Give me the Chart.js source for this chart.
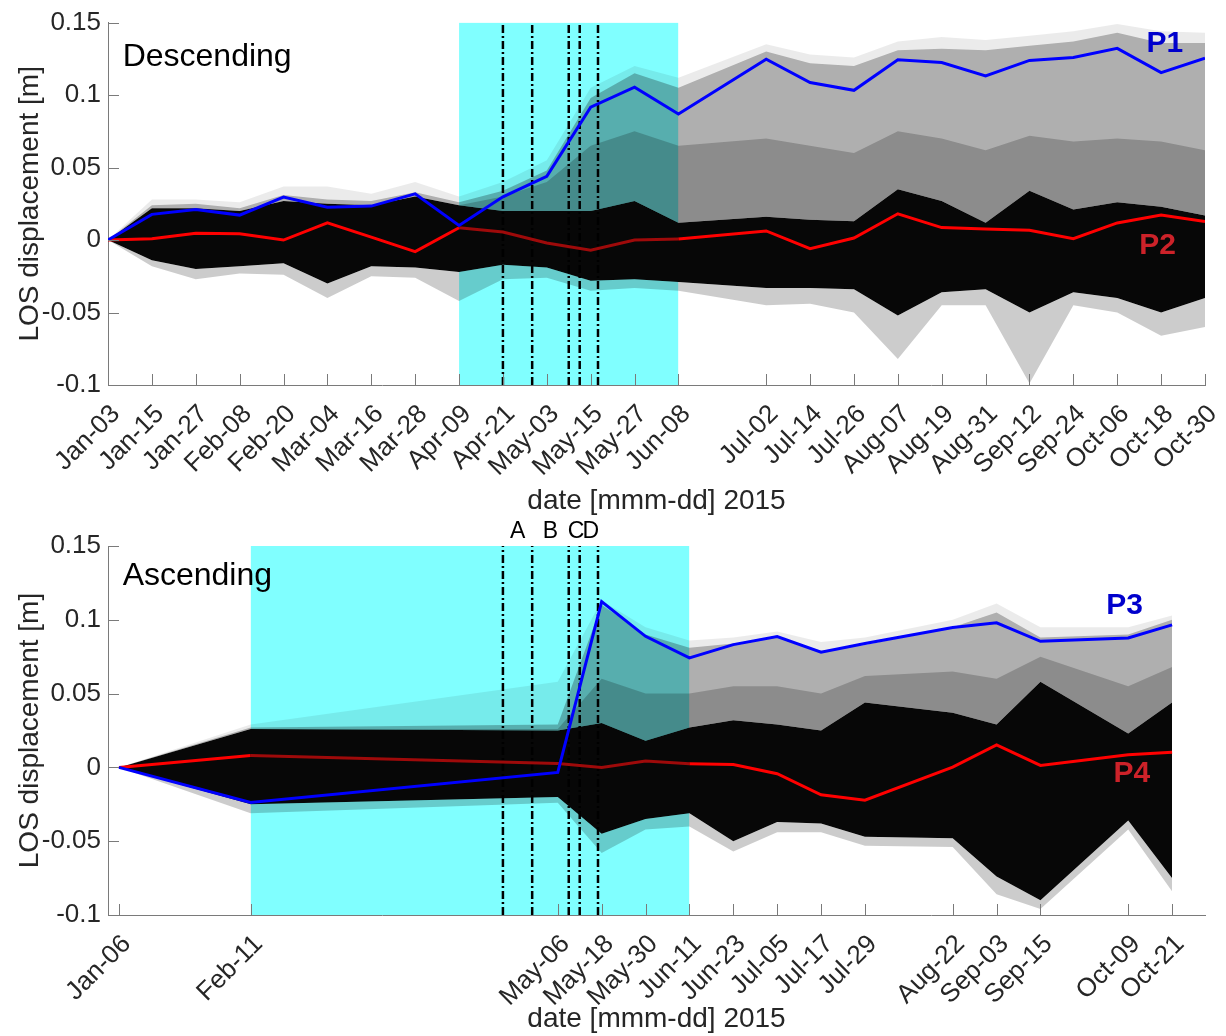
<!DOCTYPE html>
<html>
<head>
<meta charset="utf-8">
<script src="https://cdn.jsdelivr.net/npm/chart.js@4.4.1/dist/chart.umd.min.js"></script>
<style>
    html, body { margin: 0; padding: 0; background: #fff; }
    body { width: 1226px; height: 1036px; position: relative; overflow: hidden; }
    canvas { position: absolute; left: 0; }
    #desc { top: 0; }
    #asc { top: 518px; }
</style>
</head>
<body>
<canvas id="desc" width="1226" height="518"></canvas>
<canvas id="asc" width="1226" height="518"></canvas>
<script>
// --- DATA: descending track ---
const descDates = ['Jan-03','Jan-15','Jan-27','Feb-08','Feb-20','Mar-04','Mar-16','Mar-28','Apr-09','Apr-21','May-03','May-15','May-27',
    'Jun-08','Jul-02','Jul-14','Jul-26','Aug-07','Aug-19','Aug-31','Sep-12','Sep-24','Oct-06','Oct-18','Oct-30'];
const descTickLabels = descDates;
const p1 = [0, 0.0177, 0.0211, 0.0172, 0.0296, 0.0227, 0.0234, 0.0319, 0.0101, 0.0298, 0.044, 0.0917, 0.1055,
    0.087, 0.1248, 0.1087, 0.1033, 0.1243, 0.1225, 0.1132, 0.1239, 0.1259, 0.1322, 0.1155, 0.1254];
const p2 = [0, 0.0009, 0.0046, 0.0044, 0.0, 0.0119, 0.002, -0.008, 0.0085, 0.0055, -0.002, -0.0071, 0.0,
    0.0007, 0.0063, -0.0059, 0.0014, 0.0181, 0.0086, 0.0077, 0.0068, 0.0009, 0.0118, 0.0172, 0.0127];
// envelope of the pixel time series
const descOuterTop = [0, 0.028, 0.028, 0.026, 0.037, 0.037, 0.032, 0.04, 0.03, 0.04, 0.055, 0.105, 0.12,
    0.112, 0.135, 0.128, 0.126, 0.137, 0.14, 0.138, 0.141, 0.144, 0.149, 0.144, 0.143];
const descGrayTop = [0, 0.024, 0.025, 0.022, 0.031, 0.028, 0.027, 0.033, 0.026, 0.034, 0.048, 0.098, 0.115,
    0.105, 0.13, 0.122, 0.12, 0.131, 0.132, 0.131, 0.134, 0.137, 0.143, 0.136, 0.136];
const descGrayMid = [0, 0.022, 0.022, 0.02, 0.027, 0.025, 0.024, 0.03, 0.024, 0.03, 0.04, 0.065, 0.075,
    0.065, 0.07, 0.065, 0.06, 0.075, 0.07, 0.062, 0.072, 0.068, 0.07, 0.068, 0.062];
const descCoreTop = [0, 0.022, 0.022, 0.02, 0.027, 0.025, 0.024, 0.03, 0.024, 0.02, 0.02, 0.02, 0.027,
    0.012, 0.016, 0.014, 0.013, 0.035, 0.027, 0.012, 0.034, 0.021, 0.026, 0.023, 0.017];
const descCoreBot = [0, -0.014, -0.02, -0.018, -0.016, -0.03, -0.018, -0.019, -0.022, -0.017, -0.019, -0.028, -0.027,
    -0.029, -0.033, -0.033, -0.034, -0.052, -0.036, -0.034, -0.05, -0.036, -0.04, -0.05, -0.04];
const descOuterBot = [0, -0.018, -0.027, -0.023, -0.024, -0.04, -0.025, -0.026, -0.042, -0.027, -0.026, -0.035, -0.033,
    -0.035, -0.045, -0.044, -0.05, -0.082, -0.045, -0.045, -0.099, -0.045, -0.05, -0.066, -0.06];
const descCyan = ['Apr-09', 'Jun-08'];

// --- DATA: ascending track ---
const ascDates = ['Jan-06','Feb-11','May-06','May-18','May-30','Jun-11','Jun-23','Jul-05','Jul-17','Jul-29',
    'Aug-22','Sep-03','Sep-15','Oct-09','Oct-21'];
const ascTickLabels = ascDates;
const p3 = [0, -0.0238, -0.0034, 0.1123, 0.0888, 0.0742, 0.0832, 0.0886, 0.078, 0.0839, 0.0948, 0.098, 0.0854, 0.0877, 0.0966];
const p4 = [0, 0.0081, 0.0027, 0.0, 0.0043, 0.0025, 0.002, -0.0043, -0.0186, -0.0222, 0.0002, 0.0152, 0.0013, 0.0085, 0.0103];
const ascOuterTop = [0, 0.029, 0.058, 0.113, 0.095, 0.086, 0.088, 0.092, 0.085, 0.088, 0.1, 0.111, 0.095, 0.095, 0.103];
const ascGrayTop = [0, 0.027, 0.029, 0.11, 0.09, 0.081, 0.084, 0.088, 0.079, 0.083, 0.095, 0.105, 0.088, 0.09, 0.1];
const ascGrayMid = [0, 0.026, 0.026, 0.06, 0.05, 0.05, 0.055, 0.055, 0.05, 0.062, 0.065, 0.06, 0.075, 0.055, 0.068];
const ascCoreTop = [0, 0.026, 0.025, 0.03, 0.018, 0.027, 0.032, 0.029, 0.025, 0.044, 0.037, 0.029, 0.058, 0.023, 0.044];
const ascCoreBot = [0, -0.025, -0.02, -0.045, -0.035, -0.031, -0.05, -0.037, -0.038, -0.047, -0.048, -0.074, -0.09, -0.036, -0.075];
const ascOuterBot = [0, -0.031, -0.024, -0.058, -0.042, -0.04, -0.057, -0.044, -0.044, -0.053, -0.054, -0.086, -0.096, -0.042, -0.084];
const ascCyan = ['Feb-11', 'Jun-11'];

// --- shared ---
const eventDates = ['Apr-21', 'Apr-29', 'May-09', 'May-12', 'May-17'];
const eventLabels = ['A', 'B', 'C', 'D'];
const eventLabelDates = ['Apr-25', 'May-04', 'May-11', 'May-15'];
const yTickValues = [-0.1, -0.05, 0, 0.05, 0.1, 0.15];
const yTickLabels = ['-0.1', '-0.05', '0', '0.05', '0.1', '0.15'];
const xRange = ['Jan-03', 'Oct-30'];

const FONT = "'Liberation Sans', Arial, Helvetica, sans-serif";
const MONTH_START = {Jan: 0, Feb: 31, Mar: 59, Apr: 90, May: 120, Jun: 151, Jul: 181, Aug: 212, Sep: 243, Oct: 273, Nov: 304, Dec: 334};

function doy(s) {
    const [m, d] = s.split('-');
    return MONTH_START[m] + parseInt(d, 10);
}

function pts(dates, vals) {
    return dates.map((d, i) => ({x: doy(d), y: vals[i]}));
}

// --- PLUGINS ---
// MATLAB style tick marks pointing into the axes
const inTicks = {
    id: 'inTicks',
    afterDatasetsDraw(chart) {
        const {ctx, chartArea: a, scales: {x, y}} = chart;
        ctx.save();
        ctx.strokeStyle = '#7a7a7a';
        ctx.lineWidth = 1;
        ctx.beginPath();
        x.ticks.forEach(t => {
            const px = Math.round(x.getPixelForValue(t.value)) + 0.5;
            ctx.moveTo(px, a.bottom);
            ctx.lineTo(px, a.bottom - 11);
        });
        y.ticks.forEach(t => {
            const py = Math.round(y.getPixelForValue(t.value)) + 0.5;
            ctx.moveTo(a.left, py);
            ctx.lineTo(a.left + 11, py);
        });
        ctx.stroke();
        ctx.restore();
    }
};

// text placed in data coordinates
const notes = {
    id: 'notes',
    afterDraw(chart, args, opts) {
        const {ctx, scales: {x, y}} = chart;
        (opts.items || []).forEach(n => {
            ctx.save();
            ctx.font = n.font;
            ctx.fillStyle = n.color || '#000';
            ctx.textAlign = n.align || 'center';
            ctx.textBaseline = 'middle';
            ctx.fillText(n.text, x.getPixelForValue(doy(n.x)), y.getPixelForValue(n.y));
            ctx.restore();
        });
    }
};

function buildChart(id, o) {
    const cyanFrom = doy(o.cyan[0]), cyanTo = doy(o.cyan[1]);
    const datasets = [
        // 0: black core (top edge), filled down to the core bottom
        {data: pts(o.dates, o.coreTop), fill: 1, backgroundColor: '#070707', borderWidth: 0, order: 6},
        // 1: core bottom edge
        {data: pts(o.dates, o.coreBot), fill: false, borderWidth: 0, order: 6},
        // 2-4: grey spread above the core
        {data: pts(o.dates, o.outerTop), fill: 0, backgroundColor: 'rgba(0,0,0,0.08)', borderWidth: 0, order: 9},
        {data: pts(o.dates, o.grayTop), fill: 0, backgroundColor: 'rgba(0,0,0,0.26)', borderWidth: 0, order: 8},
        {data: pts(o.dates, o.grayMid), fill: 0, backgroundColor: 'rgba(0,0,0,0.2)', borderWidth: 0, order: 7},
        // 5: faint spread below the core
        {data: pts(o.dates, o.outerBot), fill: 1, backgroundColor: 'rgba(0,0,0,0.2)', borderWidth: 0, order: 9},
        // 6: cyan period
        {data: [{x: cyanFrom, y: 0.15}, {x: cyanTo, y: 0.15}], fill: 'start', backgroundColor: '#80ffff', borderWidth: 0, order: 20},
        // red and blue reference points
        {data: pts(o.dates, o.red), borderColor: '#ff0000', borderWidth: 3, fill: false, order: 2,
            segment: {borderColor: c => (c.p0.parsed.x >= cyanFrom && c.p1.parsed.x <= cyanTo) ? '#9e0a0a' : '#ff0000'}},
        {data: pts(o.dates, o.blue), borderColor: '#0000ff', borderWidth: 3, fill: false, order: 1}
    ];
    eventDates.forEach(d => {
        datasets.push({data: [{x: doy(d), y: -0.1}, {x: doy(d), y: 0.15}], borderColor: '#000', borderWidth: 2.5,
            borderDash: [8, 3, 2, 3], fill: false, order: 3});
    });

    return new Chart(document.getElementById(id), {
        type: 'line',
        data: {datasets: datasets},
        options: {
            responsive: false,
            animation: false,
            events: [],
            devicePixelRatio: 1,
            elements: {point: {radius: 0}, line: {tension: 0, borderCapStyle: 'butt'}},
            layout: {padding: {top: o.padTop, right: 21, left: 0, bottom: 0}},
            scales: {
                x: {
                    type: 'linear',
                    min: doy(xRange[0]),
                    max: doy(xRange[1]),
                    afterBuildTicks: s => { s.ticks = o.dates.map(d => ({value: doy(d)})); },
                    afterFit: s => { s.height = o.xHeight; s.paddingRight = 0; s.paddingLeft = 0; },
                    grid: {display: false, drawTicks: false},
                    border: {display: true, color: '#7a7a7a', width: 1},
                    ticks: {
                        autoSkip: false, minRotation: 45, maxRotation: 45, padding: 14, labelOffset: 8,
                        color: '#262626', font: {family: FONT, size: 26},
                        callback: (v, i) => o.tickLabels[i]
                    },
                    title: {display: true, text: 'date [mmm-dd] 2015', color: '#262626',
                        font: {family: FONT, size: 28}, padding: {top: o.titlePad, bottom: 0}}
                },
                y: {
                    type: 'linear',
                    min: -0.1,
                    max: 0.15,
                    afterBuildTicks: s => { s.ticks = yTickValues.map(v => ({value: v})); },
                    afterFit: s => { s.width = 108; },
                    grid: {display: false, drawTicks: false},
                    border: {display: true, color: '#7a7a7a', width: 1},
                    ticks: {
                        padding: 7, color: '#262626', font: {family: FONT, size: 26},
                        callback: (v, i) => yTickLabels[i]
                    },
                    title: {display: true, text: 'LOS displacement [m]', color: '#262626',
                        font: {family: FONT, size: 28}, padding: {top: 13, bottom: 0}}
                }
            },
            plugins: {
                legend: {display: false},
                tooltip: {enabled: false},
                notes: {items: o.notes}
            }
        },
        plugins: [inTicks, notes]
    });
}

// --- BUILD ---
buildChart('desc', {
    dates: descDates, tickLabels: descTickLabels, red: p2, blue: p1, cyan: descCyan,
    outerTop: descOuterTop, grayTop: descGrayTop, grayMid: descGrayMid,
    coreTop: descCoreTop, coreBot: descCoreBot, outerBot: descOuterBot,
    padTop: 17, xHeight: 133, titlePad: 0,
    notes: [
        {text: 'Descending', x: 'Jan-07', y: 0.1262, align: 'left', font: `32px ${FONT}`},
        {text: 'P1', x: 'Oct-14', y: 0.1357, font: `bold 30px ${FONT}`, color: '#0000cc', align: 'left'},
        {text: 'P2', x: 'Oct-12', y: -0.0037, font: `bold 30px ${FONT}`, color: '#cc2229', align: 'left'}
    ]
});

const ascNotes = [
    {text: 'Ascending', x: 'Jan-07', y: 0.1297, align: 'left', font: `32px ${FONT}`},
    {text: 'P3', x: 'Oct-03', y: 0.1094, font: `bold 30px ${FONT}`, color: '#0000cc', align: 'left'},
    {text: 'P4', x: 'Oct-05', y: -0.0044, font: `bold 30px ${FONT}`, color: '#cc2229', align: 'left'}
];
eventLabels.forEach((t, i) => {
    ascNotes.push({text: t, x: eventLabelDates[i], y: 0.1597, font: `23px ${FONT}`});
});

buildChart('asc', {
    dates: ascDates, tickLabels: ascTickLabels, red: p4, blue: p3, cyan: ascCyan,
    outerTop: ascOuterTop, grayTop: ascGrayTop, grayMid: ascGrayMid,
    coreTop: ascCoreTop, coreBot: ascCoreBot, outerBot: ascOuterBot,
    padTop: 28, xHeight: 121, titlePad: -3,
    notes: ascNotes
});
</script>
</body>
</html>
